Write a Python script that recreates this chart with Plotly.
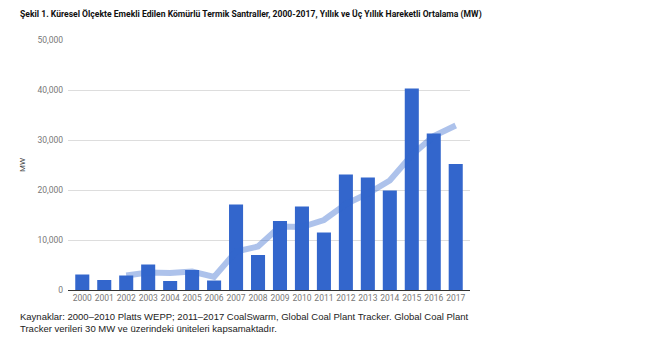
import plotly.graph_objects as go

years = [str(y) for y in range(2000, 2018)]
retired_mw = [3100, 2000, 2900, 5100, 1800, 4000, 1900, 17100, 7000, 13800,
              16700, 11500, 23100, 22500, 19900, 40300, 31300, 25200]
avg_years = years[2:]
moving_avg_mw = [2900, 3500, 3400, 3700, 2600, 7700, 8700, 12700, 12600,
                 14000, 17200, 19300, 21900, 27000, 30800, 32900]
y_ticks = [0, 10000, 20000, 30000, 40000, 50000]
y_tick_labels = ["0", "10,000", "20,000", "30,000", "40,000", "50,000"]

title = ("Şekil 1. Küresel Ölçekte Emekli Edilen Kömürlü Termik Santraller, "
         "2000-2017, Yıllık ve Üç Yıllık Hareketli Ortalama (MW)")
caption = ("Kaynaklar: 2000–2010 Platts WEPP; 2011–2017 CoalSwarm, Global Coal Plant Tracker. Global Coal Plant<br>"
           "Tracker verileri 30 MW ve üzerindeki üniteleri kapsamaktadır.")

W, H = 653, 341
fig = go.Figure()
fig.add_trace(go.Bar(x=list(range(len(years))), y=retired_mw, marker_color="#3366cc",
                     marker_line_width=0, width=0.64, name="Yıllık"))
fig.add_trace(go.Scatter(x=list(range(2, len(years))), y=moving_avg_mw, mode="lines",
                         line=dict(color="rgba(51,102,204,0.4)", width=6),
                         name="Üç Yıllık Hareketli Ortalama"))

left, right, top, bottom = 68, 470, 40.3, 290.3
fig.update_layout(
    width=W, height=H,
    margin=dict(l=left, r=W - right, t=top, b=H - bottom),
    plot_bgcolor="white", paper_bgcolor="white",
    showlegend=False,
    font=dict(family="Roboto, Arial, sans-serif", color="#777777", size=8),
    xaxis=dict(range=[-0.65, 17.65], tickvals=list(range(len(years))), ticktext=years,
               showgrid=False, zeroline=False, showline=True, linecolor="#333333",
               linewidth=1, ticks="", tickfont=dict(size=8.5, color="#777777"), fixedrange=True),
    yaxis=dict(range=[0, 50000], tickvals=y_ticks, ticktext=y_tick_labels,
               showgrid=True, gridcolor="#dddddd", gridwidth=1, zeroline=False,
               ticks="", tickfont=dict(size=8.5, color="#777777"), ticklabelstandoff=4,
               title=dict(text="MW", font=dict(size=8, color="#444444"), standoff=10)),
    annotations=[
        dict(text="<b>" + title + "</b>", xref="paper", yref="paper",
             x=(18 - left) / (right - left), y=(H - 14.5 - (H - bottom)) / (bottom - top),
             xanchor="left", yanchor="middle", showarrow=False,
             font=dict(family="Roboto, sans-serif", size=8.6, color="#111111")),
        dict(text=caption, xref="paper", yref="paper",
             x=(18 - left) / (right - left), y=(H - 309 - (H - bottom)) / (bottom - top),
             xanchor="left", yanchor="top", align="left", showarrow=False,
             font=dict(family="Liberation Sans, Arial, sans-serif", size=9.5, color="#222222")),
    ],
)
fig.write_html("out.html")
